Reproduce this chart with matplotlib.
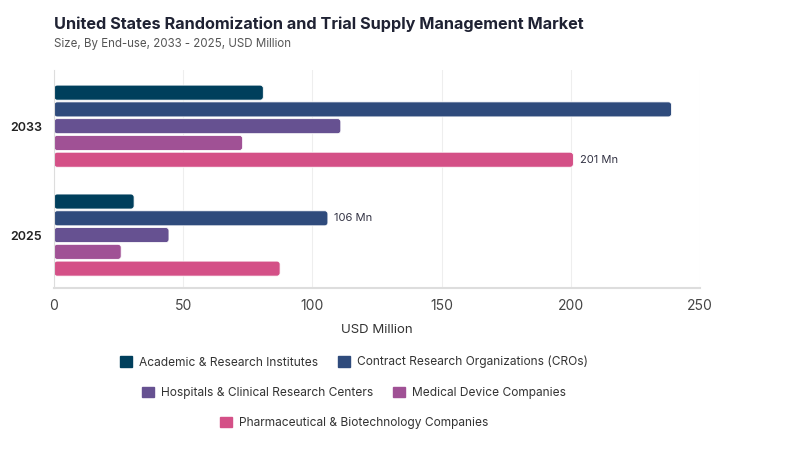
import matplotlib
matplotlib.use("Agg")
from matplotlib import pyplot as plt
from matplotlib.patches import FancyBboxPatch, Patch
import numpy as np

plt.rcParams['font.family'] = ['Inter', 'DejaVu Sans']

years = ["2025", "2033"]
segments = [
    "Academic & Research Institutes",
    "Contract Research Organizations (CROs)",
    "Hospitals & Clinical Research Centers",
    "Medical Device Companies",
    "Pharmaceutical & Biotechnology Companies",
]
values_2025 = [31, 106, 44.5, 26, 87.5]
values_2033 = [81, 239, 111, 73, 201]
colors = ["#003f5c", "#2f4b7c", "#665191", "#a05195", "#d45087"]
labels = {("2025", 1): "106 Mn", ("2033", 4): "201 Mn"}

fig = plt.figure(figsize=(8, 4.5), dpi=100)
ax = fig.add_axes([0.0675, 0.36, 0.8075, 0.484])

step = 0.154
height = 0.138
y_base = np.arange(len(years))
series = [values_2025, values_2033]

for gi, year in enumerate(years):
    for si, seg in enumerate(segments):
        y = y_base[gi] + (2 - si) * step
        v = series[gi][si]
        box = FancyBboxPatch((0, y - height / 2), v, height,
                             boxstyle="round,pad=0,rounding_size=1.2",
                             mutation_aspect=0.0237,
                             facecolor=colors[si], edgecolor="white", linewidth=0.6)
        ax.add_patch(box)
        if (year, si) in labels:
            ax.text(v + 2.5, y, labels[(year, si)], va="center", ha="left",
                    fontsize=8, color="#333344")

ax.set_xlim(0, 250)
ax.set_ylim(-0.486, 1.514)
ax.set_yticks(y_base)
ax.set_yticklabels(years, fontsize=9, fontweight="semibold", color="#222222")
ax.set_xticks([0, 50, 100, 150, 200, 250])
ax.tick_params(axis="x", labelsize=10, colors="#444444", length=0, pad=8)
ax.tick_params(axis="y", length=0, pad=8.5)
ax.grid(axis="x", color="#eeeeee", linewidth=0.8)
ax.set_axisbelow(True)
for s in ["top", "right"]:
    ax.spines[s].set_visible(False)
ax.spines["left"].set_color("#dddddd")
ax.spines["bottom"].set_color("#dddddd")
ax.spines["bottom"].set_linewidth(1.5)
ax.set_xlabel("USD Million", fontsize=9.5, color="#333333", labelpad=8)

fig.text(0.0675, 0.935, "United States Randomization and Trial Supply Management Market",
         fontsize=11.7, fontweight="bold", color="#1f2233")
fig.text(0.0675, 0.895, "Size, By End-use, 2033 - 2025, USD Million",
         fontsize=8.3, color="#555555")

handles = [Patch(facecolor=c, edgecolor=c, label=s) for c, s in zip(colors, segments)]
rows = [[0, 1], [2, 3], [4]]
row_y = [0.195, 0.127, 0.06]
for r, yy in zip(rows, row_y):
    leg = fig.legend([handles[i] for i in r], [segments[i] for i in r],
                     loc="center", bbox_to_anchor=(0.4425, yy), ncol=len(r),
                     frameon=False, fontsize=8.6, handlelength=1.0, handleheight=1.0,
                     columnspacing=1.6, handletextpad=0.6, labelcolor="#333333")

fig.savefig("out.png", dpi=100)
